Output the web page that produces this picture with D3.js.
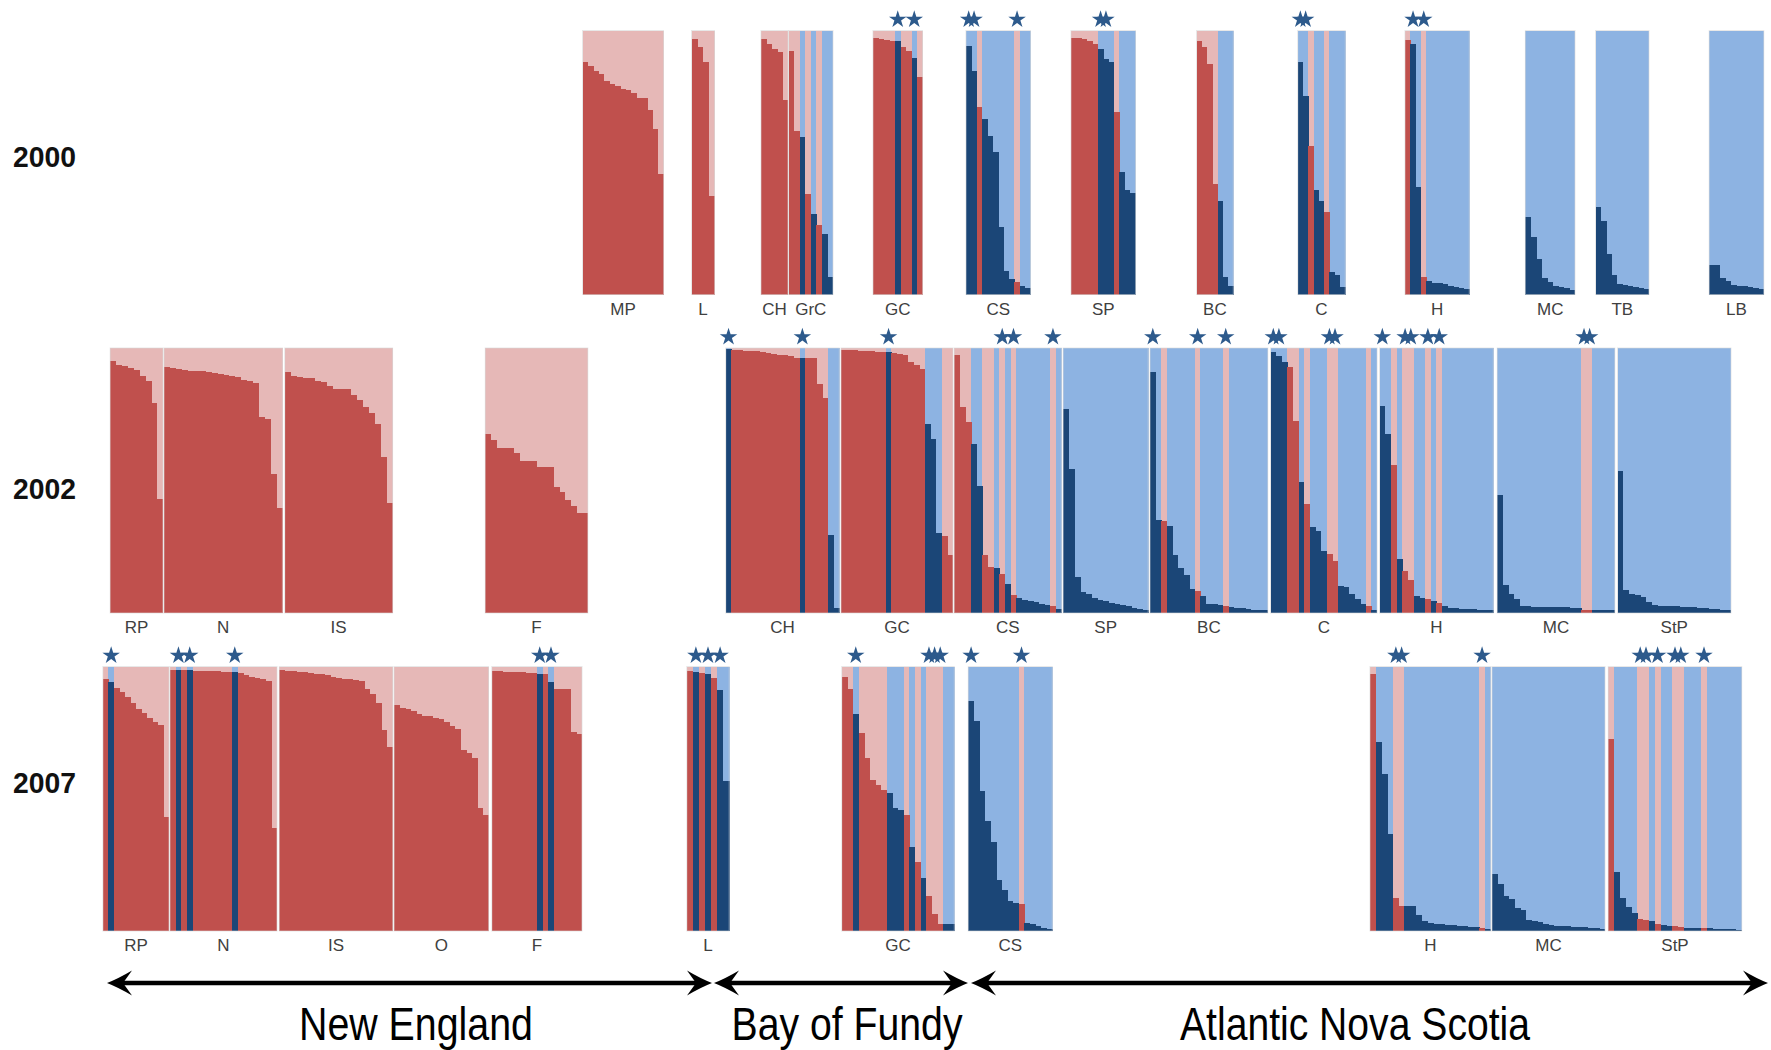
<!DOCTYPE html>
<html>
<head>
<meta charset="utf-8">
<script src="https://cdn.jsdelivr.net/npm/d3@7"></script>
<style>
  body { margin: 0; background: #fff; }
  svg { display: block; }
</style>
</head>
<body>
<div id="chart"></div>
<script>
// Ancestry bar plots by site and year, with region arrows underneath.

////////////////////////////////////////////////////////////////////////
// Data: one entry per site; types give each individual's cluster
// (r = red/pink, b = dark blue/light blue), q the height of its dark part.

let years = ["2000", "2002", "2007"];

let pop2000 = ["MP", "L", "CH", "GrC", "GC", "CS", "SP", "BC", "C", "H", "MC", "TB", "LB"];
let type2000 = ["rrrrrrrrrrrrrrr", "rrrr", "rrrrr", "rrbrbrbb", "rrrrbrrbr", "bbrbbbbbbrbb",
                "rrrrrbbbrbbb", "rrrrbbb", "bbrbbrbbb", "rbbrbbbbbbbb", "bbbbbbbbb",
                "bbbbbbbbbb", "bbbbbbbbbb"];
let q2000 = [
  [.88, .867, .848, .836, .807, .798, .788, .779, .773, .763, .745, .745, .697, .628, .457],
  [.968, .937, .88, .375],
  [.968, .949, .930, .918, .735],
  [.924, .621, .596, .381, .306, .265, .230, .068],
  [.972, .968, .965, .962, .960, .937, .924, .896, .823],
  [.943, .848, .710, .665, .602, .539, .255, .088, .059, .047, .034, .025],
  [.972, .971, .966, .960, .950, .931, .893, .880, .691, .463, .394, .384],
  [.960, .937, .874, .419, .356, .066, .034],
  [.880, .753, .564, .397, .356, .312, .085, .072, .028],
  [.965, .947, .407, .068, .053, .043, .043, .040, .032, .028, .025, .020],
  [.293, .217, .135, .063, .047, .034, .028, .025, .018],
  [.333, .278, .152, .072, .038, .037, .034, .030, .025, .020],
  [.112, .112, .063, .053, .037, .034, .032, .028, .024, .019]
];
let star2000 = [[], [], [], [], [4, 7], [0, 1, 9], [5, 6], [], [0, 1], [1, 3], [], [], []];

let pop2002 = ["RP", "N", "IS", "F", "CH", "GC", "CS", "SP", "BC", "C", "H", "MC", "StP"];
let type2002 = ["rrrrrrrrr", "rrrrrrrrrrrrrrrrrrrr", "rrrrrrrrrrrrrrrrrr", "rrrrrrrrrrrrrrrrrr",
                "brrrrrrrrrrrrbrrrrbb", "rrrrrrrrbrrrrrrbbbrr", "rrrbbrrbrbrbbbbbbrb",
                "bbbbbbbbbbbbbbb", "bbrbbbbbrbbbbrbbbbbbb", "bbbrrbrbbbrrbbbbbrb",
                "bbrbrrbbrbrbbbbbbbbb", "bbbbbbbbbbbbbbbrrbbbb", "bbbbbbbbbbbbbbbbbbbb"];
let q2002 = [
  [.950, .935, .932, .926, .916, .895, .877, .792, .432],
  [.930, .925, .920, .916, .915, .915, .914, .911, .907, .902, .898, .896, .890, .881, .875, .867, .739, .731, .524, .398],
  [.909, .896, .890, .887, .887, .877, .871, .858, .846, .846, .846, .821, .802, .779, .754, .714, .589, .416],
  [.677, .654, .623, .623, .623, .602, .574, .574, .574, .551, .551, .551, .476, .457, .426, .404, .376, .376],
  [.995, .991, .991, .990, .989, .987, .985, .982, .979, .975, .972, .968, .963, .962, .962, .962, .865, .811, .295, .020],
  [.991, .991, .991, .990, .989, .987, .986, .985, .985, .982, .978, .972, .946, .934, .921, .713, .656, .301, .289, .219],
  [.972, .776, .719, .637, .478, .219, .175, .168, .147, .111, .067, .058, .048, .044, .042, .035, .029, .025, .016],
  [.770, .542, .137, .080, .071, .058, .048, .044, .039, .035, .032, .027, .020, .015, .013],
  [.909, .352, .346, .327, .219, .168, .143, .089, .084, .063, .035, .033, .029, .027, .023, .020, .018, .015, .013, .012, .011],
  [.984, .968, .948, .927, .724, .493, .412, .324, .308, .235, .221, .197, .102, .098, .073, .054, .035, .025, .013],
  [.781, .674, .560, .202, .159, .126, .063, .058, .054, .044, .038, .027, .020, .018, .016, .015, .014, .013, .011, .010],
  [.446, .105, .071, .051, .025, .025, .024, .024, .023, .023, .022, .022, .021, .020, .020, .013, .013, .012, .012, .011, .010],
  [.535, .086, .073, .067, .061, .042, .029, .028, .027, .026, .025, .024, .022, .021, .020, .018, .016, .015, .013, .011]
];
let star2002 = [[], [], [], [], [0, 13], [8], [8, 10, 17], [], [0, 8, 13], [0, 1, 10, 11], [0, 4, 5, 8, 10], [15, 16], []];

let pop2007 = ["RP", "N", "IS", "O", "F", "L", "GC", "CS", "H", "MC", "StP"];
let type2007 = ["rbrrrrrrrrrr", "rbrbrrrrrrrbrrrrrrr", "rrrrrrrrrrrrrrrrrrrr", "rrrrrrrrrrrrrrrrr",
                "rrrrrrrrbrbrrrrr", "rbrbrbb", "rrbrrrrrbbbrbrbrrrbb", "bbbbbbbbbrbbbbb",
                "rbbbrrbbbbbbbbbbbbbrb", "bbbbbbbbbbbbbbbbbbbb", "rbbbbrrbrbbrrbbbrbbbbbb"];
let q2007 = [
  [.953, .941, .918, .905, .884, .861, .839, .823, .804, .791, .777, .430],
  [.986, .986, .985, .985, .984, .984, .983, .983, .982, .981, .980, .980, .977, .967, .960, .957, .952, .944, .389],
  [.986, .984, .982, .981, .980, .977, .973, .971, .967, .961, .957, .954, .952, .948, .946, .916, .895, .863, .759, .696],
  [.853, .844, .838, .832, .819, .813, .813, .806, .800, .790, .775, .762, .686, .673, .654, .465, .439],
  [.984, .982, .981, .980, .978, .978, .977, .976, .973, .970, .942, .916, .914, .914, .752, .743],
  [.984, .981, .977, .973, .958, .913, .566],
  [.962, .914, .819, .747, .654, .572, .553, .534, .522, .465, .458, .439, .316, .262, .199, .132, .066, .028, .028, .028],
  [.870, .794, .528, .414, .338, .192, .154, .114, .106, .101, .032, .028, .018, .013, .008],
  [.972, .714, .594, .368, .126, .094, .094, .094, .059, .037, .030, .027, .025, .023, .021, .020, .018, .016, .015, .013, .008],
  [.214, .179, .131, .122, .087, .081, .043, .037, .034, .028, .021, .020, .019, .018, .017, .016, .015, .013, .011, .009],
  [.727, .223, .126, .091, .068, .047, .043, .037, .028, .021, .018, .018, .015, .013, .013, .011, .011, .010, .009, .008, .007, .006, .005]
];
let star2007 = [[1], [1, 3, 11], [], [], [8, 10], [1, 3, 5], [2, 15, 16, 17], [0, 9], [4, 5, 19], [], [5, 6, 8, 11, 12, 16]];

let regions = ["New England", "Bay of Fundy", "Atlantic Nova Scotia"];

////////////////////////////////////////////////////////////////////////
// Layout (pixel extents of each site block, row bands, arrows)

let svgW = 1771, svgH = 1050;

let ext2000 = [[582.5, 663.5], [691.5, 714.5], [761, 788], [788.5, 833], [873, 922.5], [966, 1030.5],
               [1071, 1135.5], [1196.5, 1233.3], [1297.7, 1345.3], [1405, 1469.3], [1525.4, 1575],
               [1595.5, 1649], [1709.2, 1763.8]];
let ext2002 = [[110.2, 163], [164, 282.4], [284.7, 392.6], [485.3, 587.8], [725.7, 839.3], [841, 952.9],
               [954.3, 1061.4], [1063.2, 1148.2], [1150, 1267.8], [1270.5, 1377.1], [1379.5, 1493.3],
               [1497.3, 1614.8], [1617.5, 1731]];
let ext2007 = [[102.9, 169], [170, 277], [279.4, 392.7], [394.1, 488.5], [491.8, 582], [686.8, 729.2],
               [841.7, 954.3], [968.3, 1052.3], [1370, 1490.7], [1492, 1605], [1608.3, 1741.7]];

let rowBand = [[30.5, 294.5], [348, 613], [666.5, 931]];
let yearBaseline = [167, 499, 793];

let regionExt = [[107, 712], [714, 968], [971, 1768]];
let regionText = [[416, 234], [847, 231], [1355, 350]]; // centre x, width
let arrowY = 983;

let colRed = "#c0504d", colPink = "#e6b8b7", colNavy = "#1b4677", colLight = "#8db3e2";
let colStar = "#2d5a8c";

////////////////////////////////////////////////////////////////////////

let svg = d3.select("#chart").append("svg")
    .attr("width", svgW)
    .attr("height", svgH);

function drawRow(names, types, qs, stars, exts, band) {
  let top = band[0], bottom = band[1];
  let yScale = d3.scaleLinear().domain([0, 1]).range([bottom, top]);

  names.forEach(function(name, p) {
    let inds = qs[p].map(function(q, i) {
      return { i: i, q: q, t: types[p][i] || "b" };
    });
    let xScale = d3.scaleBand().domain(d3.range(inds.length)).range(exts[p]);
    let g = svg.append("g").attr("shape-rendering", "crispEdges");

    // light (upper) part fills the whole column
    g.selectAll("rect.upper").data(inds).enter().append("rect")
      .attr("x", d => xScale(d.i))
      .attr("width", xScale.bandwidth() + 0.3)
      .attr("y", top)
      .attr("height", bottom - top)
      .attr("fill", d => d.t === "r" ? colPink : colLight);

    g.selectAll("rect.lower").data(inds).enter().append("rect")
      .attr("x", d => xScale(d.i))
      .attr("width", xScale.bandwidth() + 0.3)
      .attr("y", d => yScale(d.q))
      .attr("height", d => bottom - yScale(d.q))
      .attr("fill", d => d.t === "r" ? colRed : colNavy);

    svg.append("rect")
      .attr("x", exts[p][0]).attr("y", top)
      .attr("width", exts[p][1] - exts[p][0]).attr("height", bottom - top)
      .attr("fill", "none")
      .attr("stroke", "#d8d8d8")
      .attr("stroke-opacity", 0.6)
      .attr("stroke-width", 1);

    svg.selectAll(null).data(stars[p]).enter().append("path")
      .attr("d", d3.symbol(d3.symbolStar, 95))
      .attr("transform", i => "translate(" + (xScale(i) + xScale.bandwidth() / 2) + "," + (top - 11) + ")")
      .attr("fill", colStar);

    svg.append("text")
      .attr("x", (exts[p][0] + exts[p][1]) / 2)
      .attr("y", bottom + 20)
      .attr("text-anchor", "middle")
      .attr("font-family", "'Liberation Sans', Arial, sans-serif")
      .attr("font-size", 17)
      .attr("fill", "#404040")
      .text(name);
  });
}

drawRow(pop2000, type2000, q2000, star2000, ext2000, rowBand[0]);
drawRow(pop2002, type2002, q2002, star2002, ext2002, rowBand[1]);
drawRow(pop2007, type2007, q2007, star2007, ext2007, rowBand[2]);

// year labels
svg.selectAll("text.year").data(years).enter().append("text")
  .attr("x", 13)
  .attr("y", (d, i) => yearBaseline[i])
  .attr("font-family", "'Liberation Sans', Arial, sans-serif")
  .attr("font-weight", "bold")
  .attr("font-size", 30)
  .attr("textLength", 63)
  .attr("lengthAdjust", "spacingAndGlyphs")
  .attr("fill", "#111")
  .text(d => d);

// double-headed arrows for the regions
function arrowHead(tip, y, dir) {
  let L = 25, h = 12.5, n = 9;
  let bx = tip - dir * L;
  return "M" + tip + "," + y +
    " Q" + (tip - dir * L * 0.45) + "," + (y - h * 0.35) + " " + bx + "," + (y - h) +
    " L" + (tip - dir * (L - n)) + "," + y +
    " L" + bx + "," + (y + h) +
    " Q" + (tip - dir * L * 0.45) + "," + (y + h * 0.35) + " " + tip + "," + y + " Z";
}

regionExt.forEach(function(e, i) {
  svg.append("line")
    .attr("x1", e[0] + 12).attr("x2", e[1] - 12)
    .attr("y1", arrowY).attr("y2", arrowY)
    .attr("stroke", "#000")
    .attr("stroke-width", 4.5);
  svg.append("path").attr("d", arrowHead(e[0], arrowY, -1)).attr("fill", "#000");
  svg.append("path").attr("d", arrowHead(e[1], arrowY, 1)).attr("fill", "#000");

  svg.append("text")
    .attr("x", regionText[i][0] - regionText[i][1] / 2)
    .attr("y", 1040)
    .attr("font-family", "'Liberation Sans Narrow', 'Arial Narrow', 'Liberation Sans', sans-serif")
    .attr("font-size", 47)
    .attr("textLength", regionText[i][1])
    .attr("lengthAdjust", "spacingAndGlyphs")
    .attr("fill", "#000")
    .text(regions[i]);
});
</script>
</body>
</html>
